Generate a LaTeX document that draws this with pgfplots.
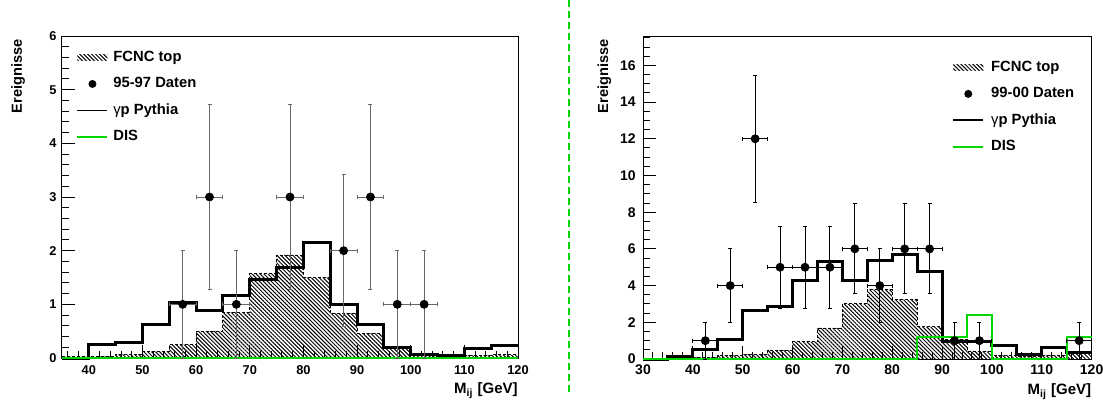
\documentclass[border=0pt]{standalone}
\usepackage{fontspec}
\setmainfont{Liberation Sans}
\usepackage{pgfplots}
\pgfplotsset{compat=1.18}
\usetikzlibrary{patterns.meta}
\definecolor{rootgreen}{RGB}{0,215,0}
\definecolor{errgray}{RGB}{105,105,105}

\pgfplotsset{
 hepstyle/.style={
  scale only axis, clip=false,
  axis line style={line width=0.5pt},
  tick pos=left, tick align=inside,
  major tick length=6.5pt, minor tick length=3.3pt,
  tick style={black, line width=0.5pt},
  /pgf/number format/assume math mode=true,
  scaled ticks=false,
  yticklabel style={inner sep=0pt, xshift=-2.5pt},
  xticklabel style={inner sep=0pt, yshift=-3.8pt},
  every axis x label/.style={at={(axis description cs:1,0)}, anchor=base east, yshift=-17.7pt, inner sep=0pt, font=\bfseries\fontsize{7.5}{8}\selectfont},
  legend style={draw=none, fill=none, inner sep=0pt, anchor=north west,
     font=\bfseries\fontsize{7.4}{8}\selectfont, row sep=6.25pt, column sep=2.5pt,
     nodes={inner sep=0pt, text height=5.5pt, text depth=1.5pt}},
  legend cell align=left,
  xlabel={M\textsubscript{ij} [GeV]},
  ylabel={Ereignisse},
 },
 hist/.style={const plot, line width=1.5pt, black, forget plot},
 fcncfill/.style={const plot, draw=none, pattern={Lines[angle=-45,distance=1.4pt,line width=0.5pt]}, forget plot},
 fcncline/.style={const plot, draw=black, dash pattern=on 1.5pt off 1pt, line width=0.45pt, forget plot},
 dis/.style={const plot, line width=1pt, rootgreen, forget plot},
 datapts/.style={only marks, mark=*, mark size=2pt, black, forget plot,
   error bars/.cd, x dir=both, x explicit, y dir=both, y explicit},
 leghatch/.style={legend image code/.code={\pgfpathrectangle{\pgfpoint{0pt}{-2pt}}{\pgfpoint{15pt}{4pt}}\pgfusepath{}\fill[draw=none, pattern={Lines[angle=-45,distance=1.4pt,line width=0.5pt]}] (0pt,-1.5pt) rectangle (15pt,1.5pt);}},
 legdot/.style={legend image code/.code={\pgfpathrectangle{\pgfpoint{0pt}{-2pt}}{\pgfpoint{15pt}{4pt}}\pgfusepath{}\fill[draw=none, black] (7.5pt,0pt) circle (2pt);}},
 legline/.style={legend image code/.code={\pgfpathrectangle{\pgfpoint{0pt}{-2pt}}{\pgfpoint{15pt}{4pt}}\pgfusepath{}\draw[#1, fill=none, line width=0.9pt] (0pt,0pt) -- (15pt,0pt);}},
}

\begin{document}
\begin{tikzpicture}
\path[use as bounding box] (0pt,0pt) rectangle (551.5pt,-201pt);
\draw[rootgreen, line width=0.8pt, dash pattern=on 3.5pt off 2pt] (284.5pt,0pt) -- (284.5pt,-196.5pt);

% ---------------- left panel ----------------
\begin{axis}[hepstyle,
  at={(31pt,-179pt)}, anchor=south west, width=228pt, height=161pt,
  xmin=35, xmax=120, ymin=0, ymax=6,
  xtick={40,50,...,120}, minor xtick={36,38,...,118},
  ytick={0,1,...,6}, minor ytick={0,0.2,...,6},
  tick label style={font=\bfseries\fontsize{6.4}{7}\selectfont},
  every axis y label/.style={at={(axis description cs:-0.088,0.991)}, rotate=90, anchor=base east, inner sep=0pt, font=\bfseries\fontsize{7.3}{8}\selectfont},
  legend style={at={(axis description cs:0.031,0.9565)}},
  error bars/error bar style={line width=0.5pt, errgray},
  error bars/error mark options={rotate=90, mark size=1pt, errgray, line width=0.5pt},
]
\addplot[fcncfill] coordinates {(35,0.02)(40,0.03)(45,0.07)(50,0.12)(55,0.25)(60,0.5)(65,0.85)(70,1.57)(75,1.92)(80,1.5)(85,0.83)(90,0.46)(95,0.17)(100,0.08)(105,0.04)(110,0.05)(115,0.06)(120,0.06)} \closedcycle;
\addplot[fcncline] coordinates {(35,0.02)(40,0.03)(45,0.07)(50,0.12)(55,0.25)(60,0.5)(65,0.85)(70,1.57)(75,1.92)(80,1.5)(85,0.83)(90,0.46)(95,0.17)(100,0.08)(105,0.04)(110,0.05)(115,0.06)(120,0.06)};
\addplot[hist] coordinates {(35,0)(40,0.25)(45,0.29)(50,0.62)(55,1.03)(60,0.88)(65,1.17)(70,1.47)(75,1.69)(80,2.16)(85,1.0)(90,0.63)(95,0.19)(100,0.07)(105,0.04)(110,0.18)(115,0.23)(120,0.23)};
\addplot[dis] coordinates {(35,0)(120,0)};
\addplot[datapts] table[x=x, y=y, x error=ex, y error=ey] {
x y ex ey
57.5 1 2.5 1
62.5 3 2.5 1.732
67.5 1 2.5 1
77.5 3 2.5 1.732
87.5 2 2.5 1.414
92.5 3 2.5 1.732
97.5 1 2.5 1
102.5 1 2.5 1
};
\addlegendimage{leghatch}
\addlegendentry{FCNC top}
\addlegendimage{legdot}
\addlegendentry{95-97 Daten}
\addlegendimage{legline=black}
\addlegendentry{{\mdseries γ}p Pythia}
\addlegendimage{legline=rootgreen}
\addlegendentry{DIS}
\end{axis}

% ---------------- right panel ----------------
\begin{axis}[hepstyle,
  at={(321.5pt,-179.5pt)}, anchor=south west, width=224.3pt, height=161.5pt,
  xmin=30, xmax=120, ymin=0, ymax=17.6,
  xtick={30,40,...,120}, minor xtick={30,32,...,120},
  ytick={0,2,...,16}, minor ytick={0,0.5,...,17.5},
  tick label style={font=\bfseries\fontsize{7}{8}\selectfont},
  yticklabel style={xshift=-1pt},
  xticklabel style={yshift=1.2pt},
  every axis y label/.style={at={(axis description cs:-0.078,0.991)}, rotate=90, anchor=base east, inner sep=0pt, font=\bfseries\fontsize{7.3}{8}\selectfont},
  legend style={at={(axis description cs:0.6887,0.9257)}, column sep=3.5pt},
  error bars/error bar style={line width=0.5pt, black},
  error bars/error mark options={rotate=90, mark size=1pt, black, line width=0.5pt},
]
\addplot[fcncfill] coordinates {(30,0.05)(35,0.05)(40,0.1)(45,0.2)(50,0.27)(55,0.49)(60,0.94)(65,1.69)(70,3.0)(75,3.78)(80,3.24)(85,1.75)(90,1.06)(95,0.4)(100,0.2)(105,0.15)(110,0.2)(115,0.3)(120,0.3)} \closedcycle;
\addplot[fcncline] coordinates {(30,0.05)(35,0.05)(40,0.1)(45,0.2)(50,0.27)(55,0.49)(60,0.94)(65,1.69)(70,3.0)(75,3.78)(80,3.24)(85,1.75)(90,1.06)(95,0.4)(100,0.2)(105,0.15)(110,0.2)(115,0.3)(120,0.3)};
\addplot[hist] coordinates {(30,0)(35,0.12)(40,0.52)(45,1.05)(50,2.63)(55,2.86)(60,4.27)(65,5.3)(70,4.27)(75,5.35)(80,5.71)(85,4.77)(90,0.94)(95,0.94)(100,0.76)(105,0.27)(110,0.61)(115,0.36)(120,0.36)};
\addplot[dis] coordinates {(30,0)(85,1.21)(90,1.21)(95,2.41)(100,0)(115,1.21)(120,1.21)};
\addplot[datapts] table[x=x, y=y, x error=ex, y error=ey] {
x y ex ey
42.5 1 2.5 1
47.5 4 2.5 2
52.5 12 2.5 3.464
57.5 5 2.5 2.236
62.5 5 2.5 2.236
67.5 5 2.5 2.236
72.5 6 2.5 2.449
77.5 4 2.5 2
82.5 6 2.5 2.449
87.5 6 2.5 2.449
92.5 1 2.5 1
97.5 1 2.5 1
117.5 1 2.5 1
};
\addlegendimage{leghatch}
\addlegendentry{FCNC top}
\addlegendimage{legdot}
\addlegendentry{99-00 Daten}
\addlegendimage{legline=black}
\addlegendentry{{\mdseries γ}p Pythia}
\addlegendimage{legline=rootgreen}
\addlegendentry{DIS}
\end{axis}
\end{tikzpicture}
\end{document}
